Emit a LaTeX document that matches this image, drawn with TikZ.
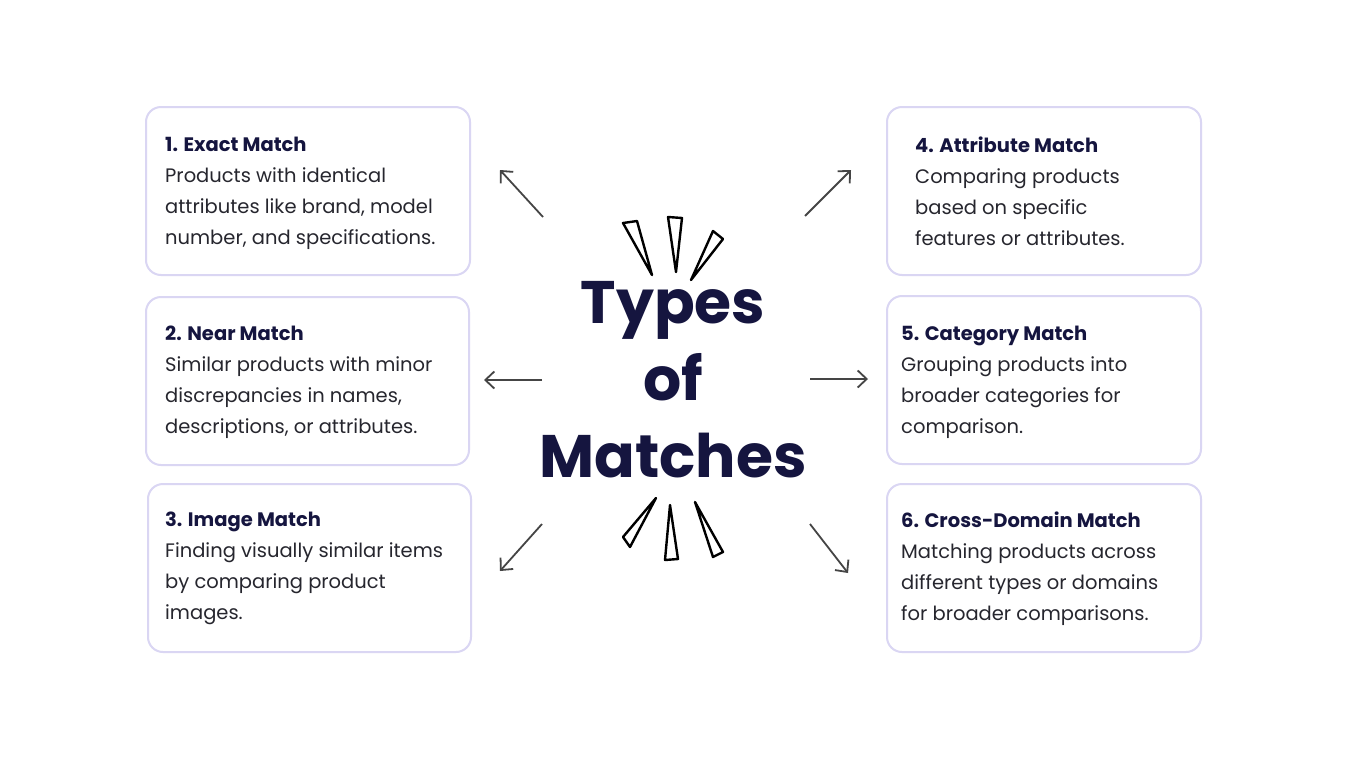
\documentclass[tikz,border=0pt]{standalone}
\usepackage{fontspec}
\setmainfont{Poppins}
\usetikzlibrary{arrows.meta}
\definecolor{boxline}{HTML}{DAD6F3}
\definecolor{navy}{HTML}{15153F}
\definecolor{bodytxt}{HTML}{26262E}
\definecolor{arrowc}{HTML}{454545}
\tikzset{
  card/.style={draw=boxline, line width=2pt, rounded corners=15pt, fill=white, anchor=north west, inner sep=0pt},
  cardtext/.style={anchor=base west, inner sep=0pt, text=bodytxt},
  arr/.style={draw=arrowc, line width=1.8pt, -{Straight Barb[length=9pt,width=17pt,line width=1.8pt]}},
  spike/.style={draw=black, line width=2.4pt, line join=round, fill=white},
  bigtitle/.style={font=\fontsize{60}{77}\selectfont\bfseries, text=navy, align=center, inner sep=0pt}
}
\newcommand{\cardbody}[2]{\parbox[t]{320pt}{\raggedright\fontsize{19.5}{31}\selectfont{\bfseries\color{navy}#1}\\#2}}
\begin{document}
\begin{tikzpicture}[x=1pt,y=-1pt]
\useasboundingbox (0,0) rectangle (1347,758);
\fill[white] (0,0) rectangle (1347,758);
% cards
\node[card, minimum width=324pt, minimum height=168pt] (c1) at (145,106) {};
\node[card, minimum width=323pt, minimum height=168pt] (c2) at (145,296) {};
\node[card, minimum width=323pt, minimum height=168pt] (c3) at (147,483) {};
\node[card, minimum width=314pt, minimum height=168pt] (c4) at (886,106) {};
\node[card, minimum width=314pt, minimum height=168pt] (c5) at (886,295) {};
\node[card, minimum width=314pt, minimum height=168pt] (c6) at (886,483) {};
% texts
\node[cardtext] (t1) at (165,137) {\cardbody{1. Exact Match}{Products with identical\\attributes like brand, model\\number, and specifications.}};
\node[cardtext] (t2) at (165,326) {\cardbody{2. Near Match}{Similar products with minor\\discrepancies in names,\\descriptions, or attributes.}};
\node[cardtext] (t3) at (165,512) {\cardbody{3. Image Match}{Finding visually similar items\\by comparing product\\images.}};
\node[cardtext] (t4) at (915,137) {\cardbody{4. Attribute Match}{Comparing products\\based on specific\\features or attributes.}};
\node[cardtext] (t5) at (901,326) {\cardbody{5. Category Match}{Grouping products into\\broader categories for\\comparison.}};
\node[cardtext] (t6) at (901,512) {\cardbody{6. Cross-Domain Match}{Matching products across\\different types or domains\\for broader comparisons.}};
% title
\node[bigtitle] (title) at (673,380) {Types\\of\\Matches};
% spikes
\draw[spike] (623,223) -- (637,221) -- (652,275) -- cycle;
\draw[spike] (668,217) -- (682,218) -- (676,272) -- cycle;
\draw[spike] (713,231) -- (723,239) -- (691,280) -- cycle;
\draw[spike] (656,498) -- (623,537) -- (630,547) -- cycle;
\draw[spike] (670,505) -- (665,560) -- (678,559) -- cycle;
\draw[spike] (695,502) -- (713,557) -- (723,552) -- cycle;
% arrows
\coordinate (a1s) at (543,217); \coordinate (a1e) at (500,170);
\coordinate (a2s) at (542,380); \coordinate (a2e) at (484,380);
\coordinate (a3s) at (542,524); \coordinate (a3e) at (500,571);
\coordinate (a4s) at (805,216); \coordinate (a4e) at (851,170);
\coordinate (a5s) at (810,379); \coordinate (a5e) at (868,379);
\coordinate (a6s) at (810,524); \coordinate (a6e) at (848,573);
\draw[arr] (a1s) -- (a1e);
\draw[arr] (a2s) -- (a2e);
\draw[arr] (a3s) -- (a3e);
\draw[arr] (a4s) -- (a4e);
\draw[arr] (a5s) -- (a5e);
\draw[arr] (a6s) -- (a6e);
\end{tikzpicture}
\end{document}
